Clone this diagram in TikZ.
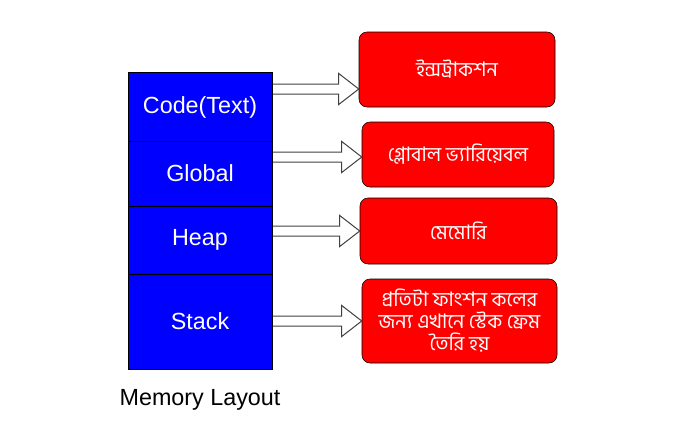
\documentclass[tikz,border=0pt]{standalone}
\usepackage{fontspec}
\setmainfont{Liberation Sans}
\newfontfamily\bnfont[Script=Bengali]{Hind Siliguri}
\usetikzlibrary{positioning,calc}

% hollow block arrow from #1 to the tip #2
\newcommand{\blockarrow}[2]{%
  \draw[blockline] ($(#1)+(0,-5)$) -- ($(#2)+(-20,-5)$) -- ($(#2)+(-20,-15.5)$)
    -- (#2) -- ($(#2)+(-20,15.5)$) -- ($(#2)+(-20,5)$) -- ($(#1)+(0,5)$);}

\begin{document}
\begin{tikzpicture}[
    x=0.75pt, y=-0.75pt,
    seg/.style={
        draw, fill={rgb,255:red,0;green,0;blue,255},
        text=white,
        minimum width=108pt,
        inner sep=0pt,
        font=\fontsize{17.5}{21}\selectfont
    },
    note/.style={
        draw, fill={rgb,255:red,255;green,0;blue,0},
        rounded corners=6pt,
        text=white,
        align=center,
        inner sep=0pt,
        font=\bnfont\fontsize{15}{16.5}\selectfont
    },
    blockline/.style={draw=black!75, fill=white, line width=0.75pt}
]
\useasboundingbox (0,0) rectangle (679,437);

% Red description boxes
\node[note, minimum width=147pt, minimum height=56.25pt] (instr) at (457,69.5)
  {ইন্সট্রাকশন};
\node[note, minimum width=144pt, minimum height=48.75pt] (glob) at (458,154.5)
  {গ্লোবাল ভ্যারিয়েবল};
\node[note, minimum width=147.75pt, minimum height=49.5pt] (mem) at (458.5,231)
  {মেমোরি};
\node[note, minimum width=146.25pt, minimum height=63pt] (frame) at (459.5,321)
  {প্রতিটা ফাংশন কলের\\জন্য এখানে স্টেক ফ্রেম\\তৈরি হয়};

% Arrow tips
\coordinate (tip1) at (instr.west |- 0,89);
\coordinate (tip2) at (glob.west |- 0,157);
\coordinate (tip3) at (mem.west |- 0,231);
\coordinate (tip4) at (frame.west |- 0,321);

% Memory column
\coordinate (colright) at (272,0);
\blockarrow{colright |- tip1}{tip1}
\blockarrow{colright |- tip2}{tip2}
\blockarrow{colright |- tip3}{tip3}
\blockarrow{colright |- tip4}{tip4}

\node[seg, minimum height=52.5pt] (code)  at (200,107)   {Code(Text)};
\node[seg, minimum height=48.75pt] (global) at (200,173.5) {Global};
\node[seg, minimum height=51pt]   (heap)  at (200,240)   {Heap};
\node[seg, minimum height=71.25pt] (stack) at (200,321.5) {Stack};

\node[font=\fontsize{17.5}{21}\selectfont] (title) at (200,400) {Memory Layout};

\end{tikzpicture}
\end{document}
